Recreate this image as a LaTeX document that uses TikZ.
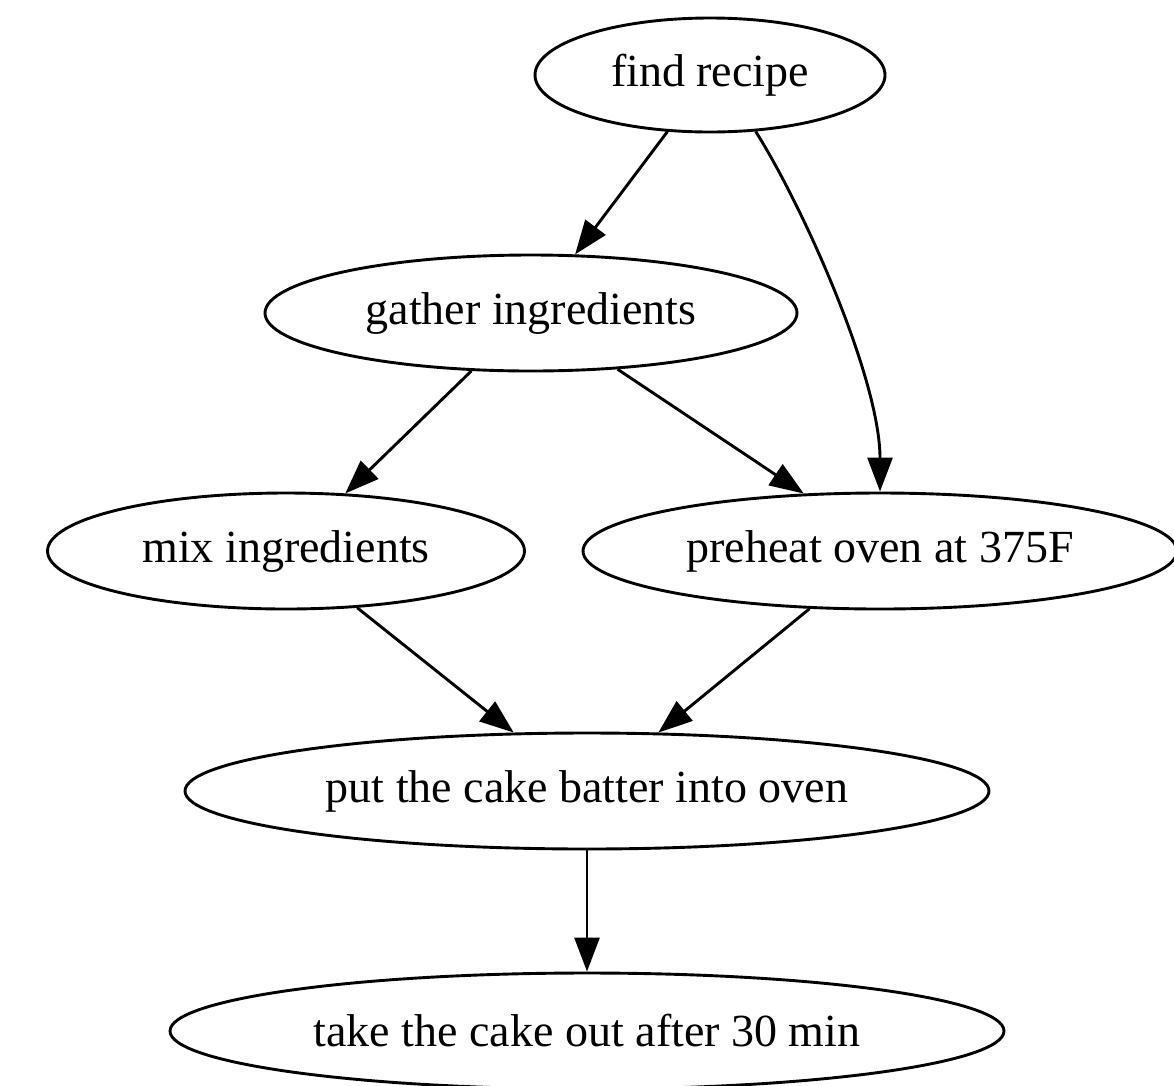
\documentclass[tikz,border=0pt]{standalone}
\usepackage{fontspec}
\setmainfont{Liberation Serif}
\usetikzlibrary{shapes.geometric,arrows.meta}
\tikzset{
  task/.style={ellipse, draw, line width=2.9pt, inner sep=0pt,
    font=\fontsize{46}{50}\selectfont},
  flow/.style={line width=2.9pt, -{Triangle[length=34pt,width=25pt]}}
}
\begin{document}
\begin{tikzpicture}[x=1pt,y=-1pt]
  \useasboundingbox (0,0) rectangle (1174,1085);
  \node[task, minimum width=350pt, minimum height=114pt] (find) at (710,75) {find recipe};
  \node[task, minimum width=532pt, minimum height=116pt] (gather) at (531,313) {gather ingredients};
  \node[task, minimum width=477pt, minimum height=116pt] (mix) at (286,551) {mix ingredients};
  \node[task, minimum width=594pt, minimum height=116pt] (preheat) at (880,551) {preheat oven at 375F};
  \node[task, minimum width=804pt, minimum height=116pt] (put) at (587,791) {put the cake batter into oven};
  \node[task, minimum width=834pt, minimum height=116pt] (take) at (587,1031) {take the cake out after 30 min};

  \draw[flow] (find) -- (gather);
  \draw[flow] (find.-51) .. controls (805,210) and (880,380) .. (preheat.north);
  \draw[flow] (gather) -- (mix);
  \draw[flow] (gather.-33) -- (preheat.143);
  \draw[flow] (mix) -- (put);
  \draw[flow] (preheat) -- (put);
  \draw[flow] (put) -- (take);
\end{tikzpicture}
\end{document}
